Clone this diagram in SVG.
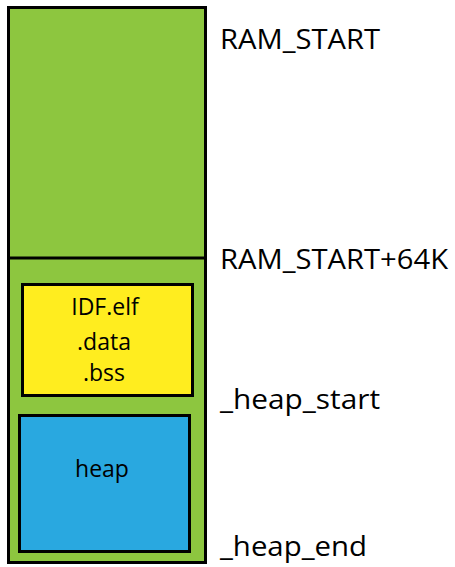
<svg xmlns="http://www.w3.org/2000/svg" width="455" height="567" viewBox="0 0 455 567">
<style>
.box{stroke:#000;stroke-width:3}
.lbl{font-family:"Open Sans","Noto Sans",sans-serif;font-size:28px;fill:#000}
.in{font-family:"Open Sans","Noto Sans",sans-serif;font-size:23px;fill:#000;text-anchor:middle}
</style>
<rect width="455" height="567" fill="#fff"/>
<g id="ram">
<rect class="box" x="8.5" y="7.5" width="197" height="555" fill="#8dc63f"/>
<line x1="8.5" y1="258" x2="205.5" y2="258" stroke="#000" stroke-width="3"/>
</g>
<g id="idf">
<rect class="box" x="22.5" y="284.5" width="170" height="111" fill="#ffed1f"/>
<text class="in" x="105" y="315">IDF.elf</text>
<text class="in" x="104" y="350">.data</text>
<text class="in" x="104" y="381">.bss</text>
</g>
<g id="heap">
<rect class="box" x="19.5" y="415.5" width="170" height="136" fill="#29a8e0"/>
<text class="in" x="102" y="477">heap</text>
</g>
<g id="labels">
<text class="lbl" x="220" y="49" textLength="160" lengthAdjust="spacingAndGlyphs">RAM_START</text>
<text class="lbl" x="220" y="269" textLength="228" lengthAdjust="spacingAndGlyphs">RAM_START+64K</text>
<text class="lbl" x="220" y="409" textLength="160" lengthAdjust="spacingAndGlyphs">_heap_start</text>
<text class="lbl" x="220" y="556" textLength="147" lengthAdjust="spacingAndGlyphs">_heap_end</text>
</g>
<g id="connectors"/>
</svg>
